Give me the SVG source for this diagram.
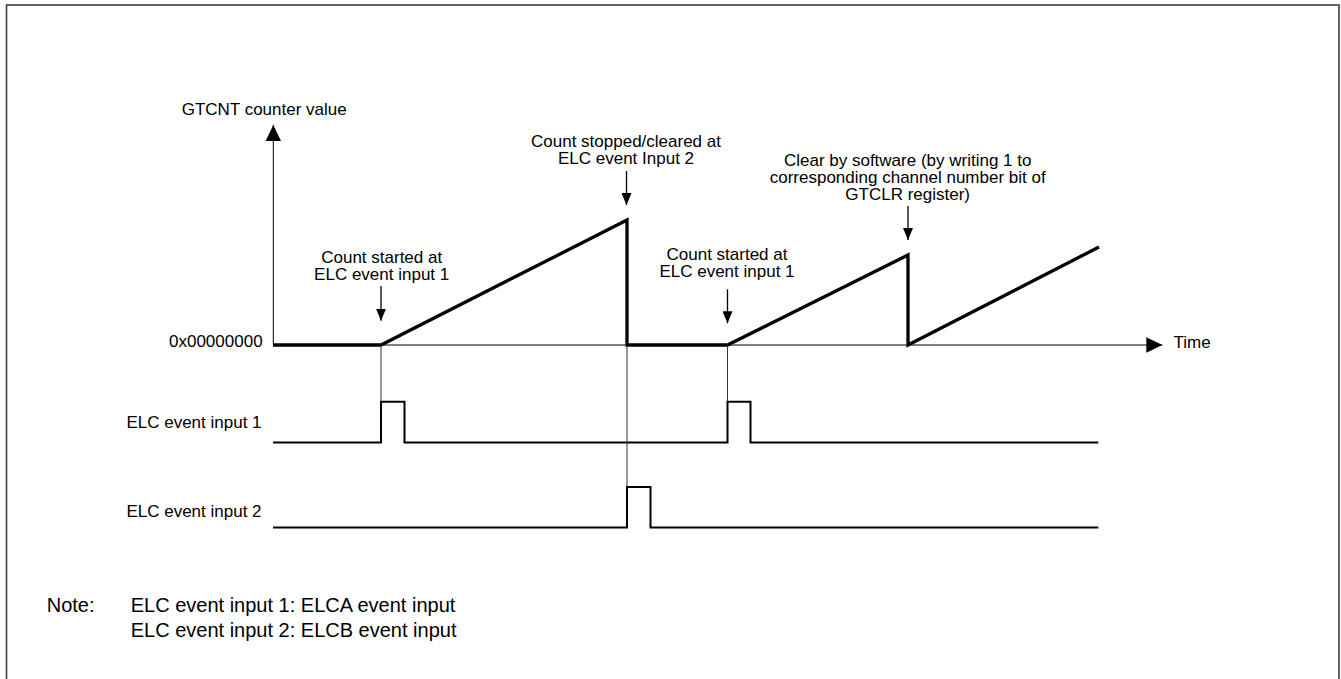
<svg xmlns="http://www.w3.org/2000/svg" width="1341" height="679" viewBox="0 0 1341 679">
<style>
text{font-family:"Liberation Sans",Arial,sans-serif;fill:#000}
.lbl{font-size:17px}
.ctr{font-size:17px;text-anchor:middle}
.note{font-size:20px}
.thick{fill:none;stroke:#000;stroke-width:3.3;stroke-linejoin:miter;stroke-miterlimit:10}
.sig{fill:none;stroke:#000;stroke-width:2}
.thin{fill:none;stroke:#000;stroke-width:1}
.guide{fill:none;stroke:#333;stroke-width:1}
.pt{fill:none;stroke:#000;stroke-width:1.3}
</style>
<defs>
<marker id="big" markerUnits="userSpaceOnUse" markerWidth="16" markerHeight="16" refX="16" refY="7.75" orient="auto" viewBox="0 0 16 15.5">
<path d="M0,0 L16,7.75 L0,15.5 z" fill="#000"/>
</marker>
<marker id="small" markerUnits="userSpaceOnUse" markerWidth="12" markerHeight="10" refX="12" refY="5" orient="auto" viewBox="0 0 12 10">
<path d="M0,0 L12,5 L0,10 z" fill="#000"/>
</marker>
</defs>
<rect x="6.5" y="5" width="1332.5" height="700" fill="#fff" stroke="#404040" stroke-width="1.6"/>

<g id="axes">
<line class="thin" x1="273.3" y1="345" x2="273.3" y2="125" marker-end="url(#big)"/>
<line class="thin" x1="273" y1="345" x2="1162.3" y2="345" marker-end="url(#big)"/>
<text class="lbl" x="181.7" y="115">GTCNT counter value</text>
<text class="lbl" x="169" y="346.7">0x00000000</text>
<text class="lbl" x="1173.5" y="348">Time</text>
</g>

<g id="counter">
<polyline class="thick" points="273,345 381,345 627,220 627,345 727.5,345 908,255 908,345 1099,247"/>
</g>

<g id="signal1">
<text class="lbl" x="126.4" y="428.3">ELC event input 1</text>
<polyline class="sig" points="273,442.5 381,442.5 381,401.7 404.5,401.7 404.5,442.5 727.5,442.5 727.5,401.7 750.5,401.7 750.5,442.5 1098.3,442.5"/>
</g>

<g id="signal2">
<text class="lbl" x="126.4" y="517.3">ELC event input 2</text>
<polyline class="sig" points="273,527.5 627,527.5 627,487 650.5,487 650.5,527.5 1098.3,527.5"/>
</g>

<g id="start1">
<text class="ctr" x="381.7" y="263.3">Count started at</text>
<text class="ctr" x="381.7" y="279.6">ELC event input 1</text>
</g>
<g id="stop2">
<text class="ctr" x="626" y="147.3">Count stopped/cleared at</text>
<text class="ctr" x="626" y="163.5">ELC event Input 2</text>
</g>
<g id="start2">
<text class="ctr" x="727" y="259.6">Count started at</text>
<text class="ctr" x="727" y="276.8">ELC event input 1</text>
</g>
<g id="swclear">
<text class="ctr" x="907.7" y="166">Clear by software (by writing 1 to</text>
<text class="ctr" x="907.7" y="183.3">corresponding channel number bit of</text>
<text class="ctr" x="907.7" y="200">GTCLR register)</text>
</g>

<g id="connectors">
<line class="pt" x1="381" y1="286" x2="381" y2="320.7" marker-end="url(#small)"/>
<line class="pt" x1="626.5" y1="171" x2="626.5" y2="205" marker-end="url(#small)"/>
<line class="pt" x1="727.5" y1="289.3" x2="727.5" y2="323.3" marker-end="url(#small)"/>
<line class="pt" x1="908" y1="206" x2="908" y2="240" marker-end="url(#small)"/>
<line class="guide" x1="381" y1="345" x2="381" y2="401.7"/>
<line class="guide" x1="627" y1="345" x2="627" y2="487"/>
<line class="guide" x1="727.5" y1="345" x2="727.5" y2="401.7"/>
</g>

<g id="note">
<text class="note" x="46.7" y="612.3">Note:</text>
<text class="note" x="130.7" y="612.3">ELC event input 1: ELCA event input</text>
<text class="note" x="130.7" y="636.7">ELC event input 2: ELCB event input</text>
</g>
</svg>
